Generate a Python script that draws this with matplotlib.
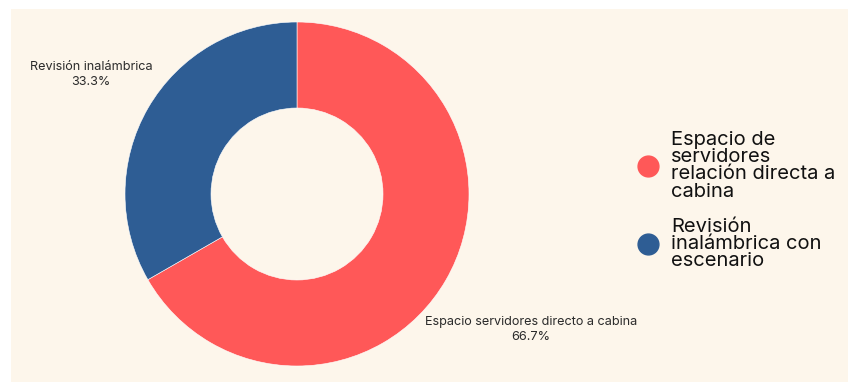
import numpy as np
import matplotlib
matplotlib.use("Agg")
from matplotlib import pyplot as plt
from matplotlib.lines import Line2D
from matplotlib.patches import Rectangle

plt.rcParams['font.family'] = ['Inter', 'DejaVu Sans']

# datos del grafico
slice_labels = ['Espacio servidores directo a cabina', 'Revisión inalámbrica']
legend_labels = ['Espacio de\nservidores\nrelación directa a\ncabina',
                 'Revisión\ninalámbrica con\nescenario']
values = [66.7, 33.3]
colors = ['#FF5858', '#2E5D94']

bg = '#FDF6EB'
txt = '#2b2b2b'

fig = plt.figure(figsize=(8.48, 3.82), dpi=100)
fig.patch.set_facecolor('white')
# panel crema
fig.patches.append(Rectangle((11 / 848, 0), 1, 373 / 382, transform=fig.transFigure,
                             facecolor=bg, edgecolor='none', zorder=-5))

ax = fig.add_axes([125 / 848, 16 / 382, 344 / 848, 344 / 382])
ax.set_zorder(2)
ax.set_facecolor('none')
wedges, _ = ax.pie(values, colors=colors, startangle=90, counterclock=False,
                   radius=1, wedgeprops=dict(width=0.5, edgecolor='white', linewidth=0.4))
ax.set_xlim(-1, 1)
ax.set_ylim(-1, 1)
ax.set_aspect('equal')
ax.axis('off')

# etiquetas con porcentaje, centradas
dist = [1.57, 1.385]
total = sum(values)
for w, lab, v, d in zip(wedges, slice_labels, values, dist):
    ang = np.deg2rad((w.theta1 + w.theta2) / 2)
    ax.text(d * np.cos(ang), d * np.sin(ang), f'{lab}\n{v / total * 100:.1f}%',
            ha='center', va='center', fontsize=9.1, color=txt, linespacing=1.3)

handles = [Line2D([], [], marker='o', linestyle='none', markersize=15,
                  markerfacecolor=c, markeredgecolor=c) for c in colors]
leg = fig.legend(handles, legend_labels, loc='center left', bbox_to_anchor=(610 / 848, 0.475),
                 frameon=False, fontsize=14.5, handletextpad=0.15, labelspacing=0.85,
                 labelcolor='#111111')
for t in leg.get_texts():
    t.set_linespacing(0.95)

plt.savefig('out.png', dpi=100, facecolor=fig.get_facecolor())
